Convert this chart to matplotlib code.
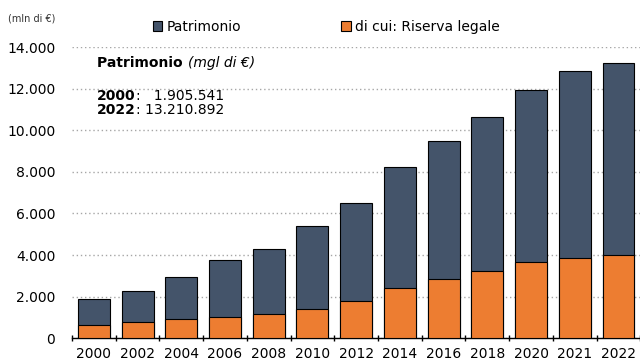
import matplotlib.pyplot as plt
import numpy as np

anni = ["2000", "2002", "2004", "2006", "2008", "2010", "2012",
        "2014", "2016", "2018", "2020", "2021", "2022"]
patrimonio = [1906, 2256, 2957, 3759, 4301, 5391, 6500,
              8224, 9470, 10620, 11920, 12847, 13211]
riserva_legale = [653, 768, 912, 1008, 1167, 1421, 1776,
                  2415, 2832, 3216, 3648, 3840, 3985]

blu = "#44546A"
arancio = "#ED7D31"

fig = plt.figure(figsize=(6.4, 3.63), dpi=100)
ax = fig.add_axes([0.1125, 0.068, 0.888, 0.8025])

x = np.arange(len(anni))
ax.bar(x, patrimonio, width=0.73, color=blu, edgecolor="black", linewidth=0.8,
       label="Patrimonio", zorder=3)
ax.bar(x, riserva_legale, width=0.73, color=arancio, edgecolor="black", linewidth=0.8,
       label="di cui: Riserva legale", zorder=4)

ax.set_xlim(-0.5, len(anni) - 0.5)
ax.set_ylim(0, 14000)
ax.set_yticks(range(0, 14001, 2000))
ax.set_yticklabels(["0" if v == 0 else f"{v:,}".replace(",", ".") for v in range(0, 14001, 2000)],
                   fontsize=10)
ax.yaxis.grid(True, linestyle=(0, (1, 2)), color="#a6a6a6", linewidth=1, zorder=0)
ax.tick_params(axis="y", length=0, pad=12)

ax.set_xticks(x)
ax.set_xticklabels(anni, fontsize=10)
ax.set_xticks(np.arange(-0.5, len(anni), 1), minor=True)
ax.tick_params(axis="x", which="major", length=0, pad=6)
ax.tick_params(axis="x", which="minor", length=5, width=1, direction="inout", color="black")

for lato in ["left", "right", "top"]:
    ax.spines[lato].set_visible(False)
ax.spines["bottom"].set_linewidth(1)

fig.text(0.012, 0.94, "(mln di €)", fontsize=7, color="#333333")

ax.legend(loc="upper left", bbox_to_anchor=(0.12, 1.135), ncol=2, frameon=False,
          fontsize=10, handlelength=0.7, handleheight=0.7, handletextpad=0.3,
          columnspacing=7.2)

# riquadro di testo: pezzi in grassetto/corsivo messi uno dopo l'altro
renderer = fig.canvas.get_renderer()


def riga(x0, y0, pezzi):
    xc = x0
    for testo, stile in pezzi:
        t = fig.text(xc, y0, testo, fontsize=10, **stile)
        bb = t.get_window_extent(renderer=renderer)
        xc += bb.width / fig.bbox.width


riga(0.152, 0.815, [("Patrimonio ", {"fontweight": "bold"}),
                    ("(mgl di €)", {"style": "italic"})])
riga(0.152, 0.725, [("2000", {"fontweight": "bold"}), (":   1.905.541", {})])
riga(0.152, 0.686, [("2022", {"fontweight": "bold"}), (": 13.210.892", {})])

fig.savefig("out.png", dpi=100)
